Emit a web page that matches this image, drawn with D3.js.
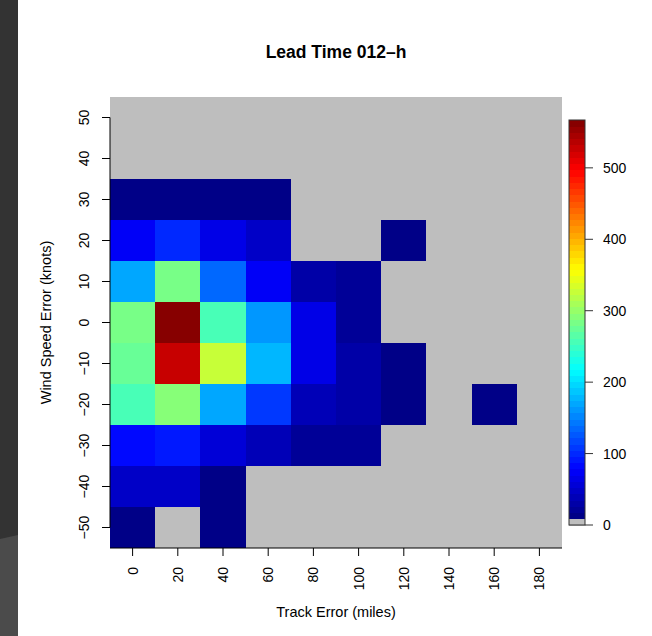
<!DOCTYPE html>
<html>
<head>
<meta charset="utf-8">
<script src="https://cdn.jsdelivr.net/npm/d3@7"></script>
<style>
    body { margin: 0; background: #fff; }
    svg { display: block; font-family: "Liberation Sans", Arial, sans-serif; }
</style>
</head>
<body>
<div id="chart"></div>
<script>
// --- Data ---
const trackErr = [0, 20, 40, 60, 80, 100, 120, 140, 160, 180];
const windErr = [50, 40, 30, 20, 10, 0, -10, -20, -30, -40, -50];
// one row per wind speed error bin (top to bottom), one column per track error bin
const counts = [
    [0, 0, 0, 0, 0, 0, 0, 0, 0, 0],
    [0, 0, 0, 0, 0, 0, 0, 0, 0, 0],
    [12, 12, 12, 12, 0, 0, 0, 0, 0, 0],
    [73, 101, 62, 44, 0, 0, 12, 0, 0, 0],
    [172, 283, 135, 73, 32, 18, 0, 0, 0, 0],
    [283, 567, 256, 162, 66, 18, 0, 0, 0, 0],
    [278, 525, 330, 177, 62, 27, 12, 0, 0, 0],
    [256, 288, 166, 107, 35, 31, 12, 0, 12, 0],
    [79, 88, 58, 40, 23, 23, 0, 0, 0, 0],
    [44, 44, 12, 0, 0, 0, 0, 0, 0, 0],
    [12, 0, 12, 0, 0, 0, 0, 0, 0, 0]
];
const xTicks = [0, 20, 40, 60, 80, 100, 120, 140, 160, 180];
const yTicks = [50, 40, 30, 20, 10, 0, -10, -20, -30, -40, -50];
const legendTicks = [0, 100, 200, 300, 400, 500];
const zMax = 567;
const nColors = 64;

// --- Helpers ---
const clamp = v => Math.max(0, Math.min(1, v));
function jet(t) {
    const r = clamp(1.5 - Math.abs(4 * t - 3));
    const g = clamp(1.5 - Math.abs(4 * t - 2));
    const b = clamp(1.5 - Math.abs(4 * t - 1));
    return d3.rgb(r * 255, g * 255, b * 255).formatHex();
}
// gray band first, then 64 jet bands (like image.plot with a gray zero class)
function bandColor(k) {
    return k === 0 ? '#bebebe' : jet((k - 1 + 0.5) / nColors);
}
function colorOf(v) {
    if (v === 0) return '#bebebe';
    const k = Math.max(1, Math.min(nColors, Math.floor(v / zMax * (nColors + 1))));
    return bandColor(k);
}
const fmt = d => d < 0 ? '\u2212' + Math.abs(d) : String(d);

// --- Chart ---
const width = 652, height = 636;
const svg = d3.select('#chart').append('svg')
    .attr('width', width)
    .attr('height', height);

// dark backdrop strip on the left
svg.append('rect').attr('x', 0).attr('y', 0).attr('width', 18).attr('height', height).attr('fill', '#333333');
svg.append('path').attr('d', 'M0,539 L18,535 L18,636 L0,636 Z').attr('fill', '#4b4b4b');

const x = d3.scaleLinear().domain([-10, 190]).range([110, 562]);
const y = d3.scaleLinear().domain([-55, 55]).range([548, 97]);

const cells = [];
windErr.forEach((w, i) => {
    trackErr.forEach((t, j) => cells.push({ t, w, v: counts[i][j] }));
});

svg.append('g')
    .attr('shape-rendering', 'crispEdges')
    .selectAll('rect')
    .data(cells)
    .enter()
    .append('rect')
    .attr('x', d => x(d.t - 10))
    .attr('y', d => y(d.w + 5))
    .attr('width', d => x(d.t + 10) - x(d.t - 10))
    .attr('height', d => y(d.w - 5) - y(d.w + 5))
    .attr('fill', d => colorOf(d.v));

// bottom axis
const gx = svg.append('g').attr('font-size', 14);
gx.append('line')
    .attr('x1', 110).attr('x2', 562)
    .attr('y1', 548).attr('y2', 548)
    .attr('stroke', '#000');
gx.selectAll('line.tick')
    .data(xTicks)
    .enter()
    .append('line')
    .attr('class', 'tick')
    .attr('x1', d => x(d)).attr('x2', d => x(d))
    .attr('y1', 548).attr('y2', 556)
    .attr('stroke', '#000');
gx.selectAll('text')
    .data(xTicks)
    .enter()
    .append('text')
    .attr('transform', d => `translate(${x(d)},567) rotate(-90)`)
    .attr('text-anchor', 'end')
    .attr('dy', '0.36em')
    .text(fmt);

// left axis
const gy = svg.append('g').attr('font-size', 14);
gy.append('line')
    .attr('x1', 110).attr('x2', 110)
    .attr('y1', y(50)).attr('y2', y(-50))
    .attr('stroke', '#000');
gy.selectAll('line.tick')
    .data(yTicks)
    .enter()
    .append('line')
    .attr('class', 'tick')
    .attr('x1', 102).attr('x2', 110)
    .attr('y1', d => y(d)).attr('y2', d => y(d))
    .attr('stroke', '#000');
gy.selectAll('text')
    .data(yTicks)
    .enter()
    .append('text')
    .attr('transform', d => `translate(89,${y(d)}) rotate(-90)`)
    .attr('text-anchor', 'middle')
    .text(fmt);

// titles
svg.append('text')
    .attr('x', 336).attr('y', 58)
    .attr('text-anchor', 'middle')
    .attr('font-size', 17.5)
    .attr('font-weight', 'bold')
    .text('Lead Time 012\u2013h');
svg.append('text')
    .attr('x', 336).attr('y', 617)
    .attr('text-anchor', 'middle')
    .attr('font-size', 14.5)
    .text('Track Error (miles)');
svg.append('text')
    .attr('transform', `translate(51,${(97 + 548) / 2}) rotate(-90)`)
    .attr('text-anchor', 'middle')
    .attr('font-size', 14.5)
    .text('Wind Speed Error (knots)');

// --- Colour bar ---
const c = d3.scaleLinear().domain([0, zMax]).range([525, 120]);
const bands = d3.range(nColors + 1);
const legend = svg.append('g');
legend.append('g')
    .attr('shape-rendering', 'crispEdges')
    .selectAll('rect')
    .data(bands)
    .enter()
    .append('rect')
    .attr('x', 569)
    .attr('width', 16)
    .attr('y', k => c((k + 1) * zMax / (nColors + 1)))
    .attr('height', k => c(k * zMax / (nColors + 1)) - c((k + 1) * zMax / (nColors + 1)) + 0.5)
    .attr('fill', bandColor);
legend.append('rect')
    .attr('x', 569).attr('y', 120)
    .attr('width', 16).attr('height', 405)
    .attr('fill', 'none')
    .attr('stroke', '#333');
legend.selectAll('line')
    .data(legendTicks)
    .enter()
    .append('line')
    .attr('x1', 585).attr('x2', 593)
    .attr('y1', d => c(d)).attr('y2', d => c(d))
    .attr('stroke', '#333');
legend.selectAll('text')
    .data(legendTicks)
    .enter()
    .append('text')
    .attr('x', 603)
    .attr('y', d => c(d))
    .attr('dy', '0.36em')
    .attr('font-size', 14)
    .text(d => d);
</script>
</body>
</html>
